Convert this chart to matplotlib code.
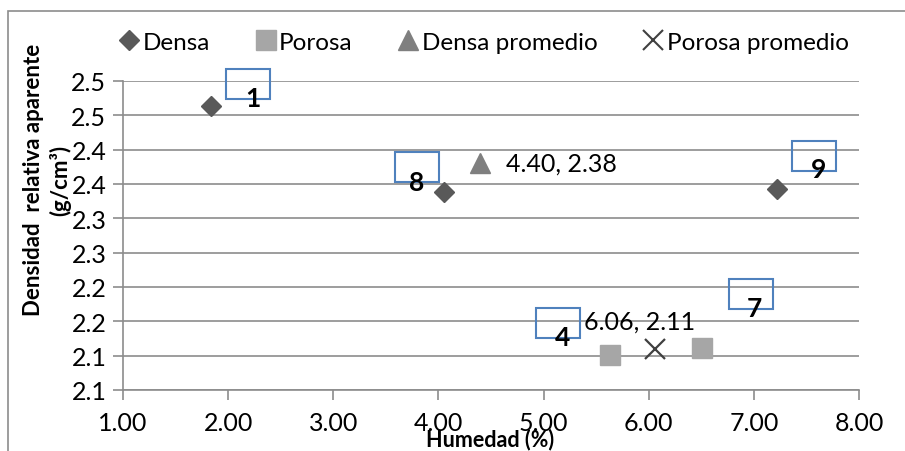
import matplotlib
matplotlib.use("Agg")
import matplotlib.pyplot as plt
from matplotlib.patches import Rectangle
from matplotlib.transforms import Affine2D, ScaledTranslation
from matplotlib.lines import Line2D

plt.rcParams['font.family'] = ['Lato', 'DejaVu Sans']

# Sample measurements: moisture (%) vs apparent relative density
densa_x = [1.84, 4.05, 7.22]
densa_y = [2.464, 2.339, 2.343]
densa_ids = ["1", "8", "9"]

porosa_x = [5.63, 6.51]
porosa_y = [2.101, 2.111]
porosa_ids = ["4", "7"]

densa_prom = (4.40, 2.38)
porosa_prom = (6.06, 2.11)

y_ticks = [2.05, 2.10, 2.15, 2.20, 2.25, 2.30, 2.35, 2.40, 2.45, 2.50]
y_tick_labels = ["2.1", "2.1", "2.2", "2.2", "2.3", "2.3", "2.4", "2.4", "2.5", "2.5"]
x_ticks = [1, 2, 3, 4, 5, 6, 7, 8]

DPI = 100
fig = plt.figure(figsize=(9.05, 4.52), dpi=DPI)
W, H = 905, 452
ax = fig.add_axes([123 / W, 1 - 391 / H, (859 - 123) / W, (391 - 82) / H])

grid_c = "#8c8c8c"
ax.set_xlim(1, 8)
ax.set_ylim(2.05, 2.50)
ax.set_xticks(x_ticks)
ax.set_xticklabels([f"{v:.2f}" for v in x_ticks])
ax.set_yticks(y_ticks)
ax.set_yticklabels(y_tick_labels)
ax.yaxis.grid(True, color=grid_c, lw=1.2)
ax.set_axisbelow(True)
for s in ("top", "right"):
    ax.spines[s].set_visible(False)
for s in ("left", "bottom"):
    ax.spines[s].set_color(grid_c)
    ax.spines[s].set_linewidth(1.2)
ax.tick_params(axis="both", colors=grid_c, length=7, width=1.2, labelsize=18,
               labelcolor="black")
ax.tick_params(axis="x", pad=8)
ax.tick_params(axis="y", pad=5)

c_densa = "#595959"
c_porosa = "#a6a6a6"
c_dprom = "#7f7f7f"
c_pprom = "#404040"

ax.plot(densa_x, densa_y, ls="none", marker="D", ms=10, color=c_densa, zorder=3)
ax.plot(porosa_x, porosa_y, ls="none", marker="s", ms=14, color=c_porosa, zorder=3)
ax.plot([densa_prom[0]], [densa_prom[1]], ls="none", marker="^", ms=14,
        color=c_dprom, zorder=3)
ax.plot([porosa_prom[0]], [porosa_prom[1]], ls="none", marker="x", ms=14,
        mew=1.6, color=c_pprom, zorder=3)

# Value labels for the averages
ax.annotate(f"{densa_prom[0]:.2f}, {densa_prom[1]:.2f}", densa_prom,
            xytext=(26, 0), textcoords="offset pixels", ha="left", va="center",
            fontsize=18)
ax.annotate(f"{porosa_prom[0]:.2f}, {porosa_prom[1]:.2f}", porosa_prom,
            xytext=(-71, 28), textcoords="offset pixels", ha="left", va="center",
            fontsize=18)

# Sample id labels with boxes (pixel offsets from each point)
id_offsets = {
    "1": ((42, 8), (37, 22)),
    "8": ((-27, 10), (-27, 25)),
    "9": ((42, 20), (37, 33)),
    "4": ((-47, 18), (-52, 32)),
    "7": ((52, 40), (49, 54)),
}
bw, bh = 44, 30
for xs, ys, ids in ((densa_x, densa_y, densa_ids), (porosa_x, porosa_y, porosa_ids)):
    for x, y, lab in zip(xs, ys, ids):
        (tdx, tdy), (bdx, bdy) = id_offsets[lab]
        ax.annotate(lab, (x, y), xytext=(tdx, tdy), textcoords="offset pixels",
                    ha="center", va="center", fontsize=19, fontweight="bold",
                    zorder=5)
        tr = Affine2D().translate(bdx - bw / 2, bdy - bh / 2) + \
            ScaledTranslation(x, y, ax.transData)
        ax.add_patch(Rectangle((0, 0), bw, bh, transform=tr, fill=False,
                               edgecolor="#4f81bd", lw=1.5, zorder=4,
                               clip_on=False))

# Axis titles
fig.text(490 / W, 1 - 446 / H, "Humedad (%)", ha="center", va="baseline",
         fontsize=15.5, fontweight="bold")
fig.text(47 / W, 1 - 180 / H, "Densidad  relativa aparente\n(g/cm³)", rotation=90,
         ha="center", va="center", fontsize=16, fontweight="bold",
         multialignment="center", linespacing=1.3)

# Legend
handles = [
    Line2D([], [], ls="none", marker="D", ms=10, color=c_densa),
    Line2D([], [], ls="none", marker="s", ms=14, color=c_porosa),
    Line2D([], [], ls="none", marker="^", ms=14, color=c_dprom),
    Line2D([], [], ls="none", marker="x", ms=14, mew=1.5, color=c_pprom),
]
labels = ["Densa", "Porosa", "Densa promedio", "Porosa promedio"]
fig.legend(handles, labels, loc="center", bbox_to_anchor=(484 / W, 1 - 43 / H),
           ncol=4, frameon=False, fontsize=17.5, handlelength=0.8,
           handletextpad=0.15, columnspacing=1.9)

# Chart frame
fig.add_artist(Rectangle((8 / W, -0.1), 1.2, 1 - 12 / H + 0.1,
                         transform=fig.transFigure, fill=False,
                         edgecolor="#8c8c8c", lw=1.2, clip_on=False))

fig.savefig("out.png", dpi=DPI)
